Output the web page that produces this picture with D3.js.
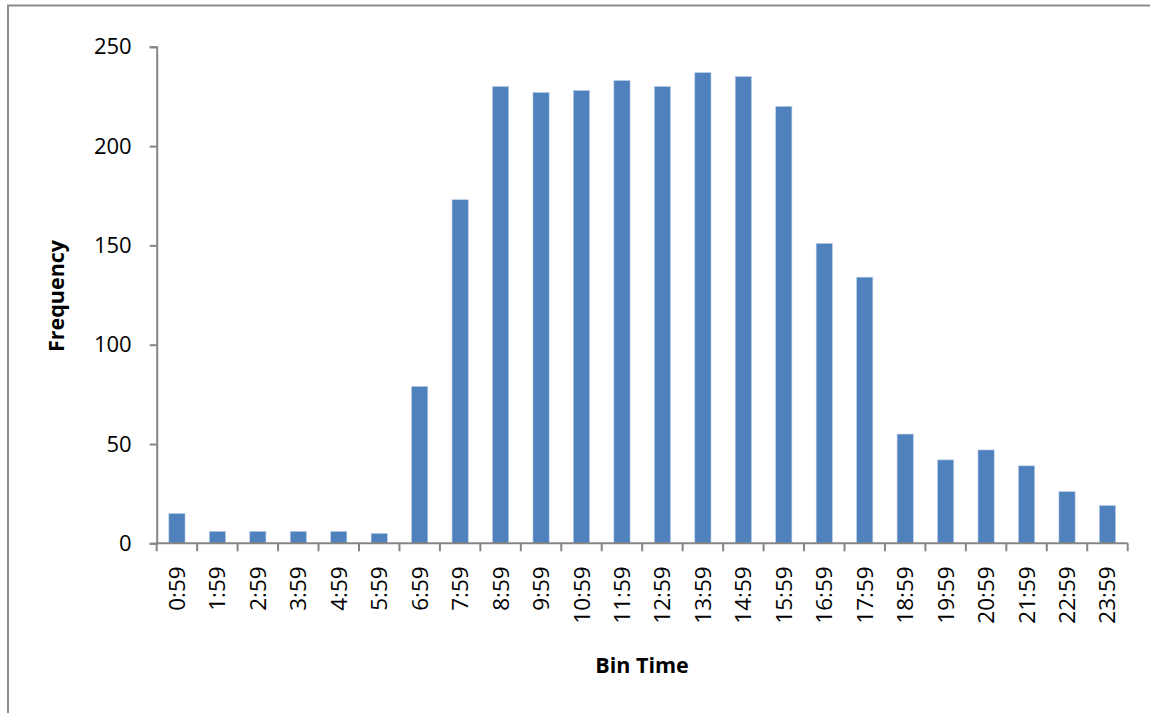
<!DOCTYPE html>
<html>
<head>
<meta charset="utf-8">
<script src="https://cdn.jsdelivr.net/npm/d3@7"></script>
<style>
  html, body { margin: 0; padding: 0; background: #fff; }
  svg { display: block; }
  text { font-family: "Open Sans", "Liberation Sans", sans-serif; fill: #000; }
</style>
</head>
<body>
<svg id="chart" width="1150" height="713"></svg>
<script>
// Hourly bins (label = last minute of each hour) and their counts
const binLabels = ["0:59","1:59","2:59","3:59","4:59","5:59","6:59","7:59","8:59","9:59","10:59","11:59",
                   "12:59","13:59","14:59","15:59","16:59","17:59","18:59","19:59","20:59","21:59","22:59","23:59"];
const frequency = [15, 6, 6, 6, 6, 5, 79, 173, 230, 227, 228, 233,
                   230, 237, 235, 220, 151, 134, 55, 42, 47, 39, 26, 19];
const yTicks = [0, 50, 100, 150, 200, 250];

const svg = d3.select("#chart");
const plot = { left: 156.7, right: 1127.7, top: 46.8, bottom: 543.3 };
const axisColor = "#868686";

// outer chart frame
svg.append("rect")
  .attr("x", 8).attr("y", 5.5)
  .attr("width", 1200).attr("height", 800)
  .attr("fill", "none").attr("stroke", "#8c8c8c").attr("stroke-width", 2);

const x = d3.scaleBand().domain(binLabels).range([plot.left, plot.right]);
const y = d3.scaleLinear().domain([0, 250]).range([plot.bottom, plot.top]);

// bars: gap width 150% of bar width
const barW = x.bandwidth() / 2.5;
svg.append("g").selectAll("rect")
  .data(binLabels.map((b, i) => ({ b, v: frequency[i] })))
  .join("rect")
  .attr("x", d => x(d.b) + (x.bandwidth() - barW) / 2)
  .attr("y", d => y(d.v))
  .attr("width", barW)
  .attr("height", d => y(0) - y(d.v))
  .attr("fill", "#4f81bd")
  .attr("stroke", "#b9cde5").attr("stroke-width", 0.6);

// y axis
const yAxis = svg.append("g")
  .attr("transform", `translate(${plot.left},0)`)
  .call(d3.axisLeft(y).tickValues(yTicks).tickSize(7).tickPadding(18).tickFormat(d3.format("d")));
yAxis.select(".domain").attr("stroke", axisColor).attr("stroke-width", 2);
yAxis.selectAll(".tick line").attr("stroke", axisColor).attr("stroke-width", 2);
yAxis.selectAll(".tick text").style("font-size", "22px");

// x axis: ticks on band boundaries
const xAxisG = svg.append("g").attr("transform", `translate(0,${plot.bottom})`);
xAxisG.append("line")
  .attr("x1", plot.left).attr("x2", plot.right)
  .attr("stroke", axisColor).attr("stroke-width", 2);
const boundaries = binLabels.map(b => x(b)).concat([plot.right]);
xAxisG.selectAll("line.tk").data(boundaries).join("line")
  .attr("class", "tk")
  .attr("x1", d => d).attr("x2", d => d)
  .attr("y1", 0).attr("y2", 8)
  .attr("stroke", axisColor).attr("stroke-width", 2);
xAxisG.selectAll("text").data(binLabels).join("text")
  .attr("transform", d => `translate(${x(d) + x.bandwidth() / 2 + 8},23) rotate(-90)`)
  .attr("text-anchor", "end")
  .style("font-size", "22.5px")
  .text(d => d);

// axis titles
svg.append("text")
  .attr("transform", `translate(64,296) rotate(-90)`)
  .attr("text-anchor", "middle")
  .style("font-size", "21.5px").style("font-weight", "bold")
  .text("Frequency");
svg.append("text")
  .attr("x", 642).attr("y", 673)
  .attr("text-anchor", "middle")
  .style("font-size", "21.5px").style("font-weight", "bold")
  .text("Bin Time");
</script>
</body>
</html>
